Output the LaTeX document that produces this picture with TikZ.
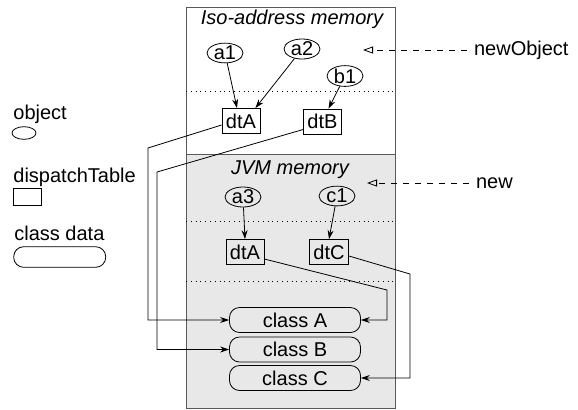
\documentclass[tikz,border=0pt]{standalone}
\usepackage{fontspec}
\setmainfont{Liberation Sans}
\usetikzlibrary{shapes.geometric,arrows.meta}

\tikzset{
  obj/.style={draw,ellipse,inner sep=0pt,minimum width=18pt,minimum height=9.5pt},
  dtab/.style={draw,inner xsep=2pt,inner ysep=0pt,minimum height=12.5pt},
  cls/.style={draw,rounded corners=5pt,minimum width=65.5pt,minimum height=12.5pt,inner sep=0pt},
  legtext/.style={anchor=base west,inner sep=0pt},
  link/.style={-{Stealth[length=4.5pt,width=3pt,inset=1.5pt]}},
  hint/.style={dashed,-{Triangle[open,length=5pt,width=3.5pt]}},
  sep/.style={dotted},
}

\begin{document}
\begin{tikzpicture}[x=0.5pt,y=-0.5pt]
\useasboundingbox (0,0) rectangle (578,409);

\draw[gray!70!black] (186,7) rectangle (395,154);
\draw[gray!70!black,fill=gray!18] (186,154) rectangle (395,408);
\draw[sep] (186,91) -- (395,91);
\draw[sep] (186,221) -- (395,221);
\draw[sep] (186,281) -- (395,281);

\node (iso) at (292,19) {\itshape Iso-address memory};
\node (jvm) at (290,170) {\itshape JVM memory};

\node[obj] (a1) at (225,53) {a1};
\node[obj] (a2) at (302,49) {a2};
\node[obj] (b1) at (345,76) {b1};
\node[dtab] (dtA1) at (241,121) {dtA};
\node[dtab] (dtB) at (322.5,121.5) {dtB};

\node[obj] (a3) at (243,197) {a3};
\node[obj] (c1) at (337,196) {c1};
\node[dtab] (dtA2) at (245,252) {dtA};
\node[dtab] (dtC) at (329,252) {dtC};

\node[cls] (clsA) at (295,320) {class A};
\node[cls] (clsB) at (295,349.5) {class B};
\node[cls] (clsC) at (295,378) {class C};

\draw[link] (a1) -- ([xshift=-2pt]dtA1.north);
\draw[link] (a2) -- ([xshift=-2.5pt]dtA1.north east);
\draw[link] (b1) -- ([xshift=3pt]dtB.north);
\draw[link] (a3) -- (dtA2.north);
\draw[link] (c1) -- (dtC.north);

\draw[link] ([yshift=-2pt]dtA1.west) -- (148,148) |- (clsA.west);
\draw[link] ([yshift=-4pt]dtB.west) -- (157,172) |- (clsB.west);
\draw[link] ([yshift=-3.5pt]dtA2.east) -- (387,290) |- (clsA.east);
\draw[link] ([yshift=-2pt]dtC.east) -- (410,274) |- (clsC.east);

\node[legtext] (lobj) at (13,119) {object};
\node[obj,minimum width=12pt,minimum height=6.3pt] (kobj) at (24,133) {};
\node[legtext] (ldt) at (13,182.7) {dispatchTable};
\node[draw,minimum width=14pt,minimum height=8.8pt,inner sep=0pt] (kdt) at (27.5,197) {};
\node[legtext] (lcls) at (14,240) {class data};
\node[cls,minimum width=46pt,minimum height=10.3pt] (kcls) at (59.7,257) {};

\node[anchor=west] (newobj) at (467,50) {newObject};
\coordinate (isoin) at (363,50);
\draw[hint] (newobj) -- (isoin);
\node[anchor=west] (new) at (469,183) {new};
\coordinate (jvmin) at (367,183);
\draw[hint] (new) -- (jvmin);

\end{tikzpicture}
\end{document}
